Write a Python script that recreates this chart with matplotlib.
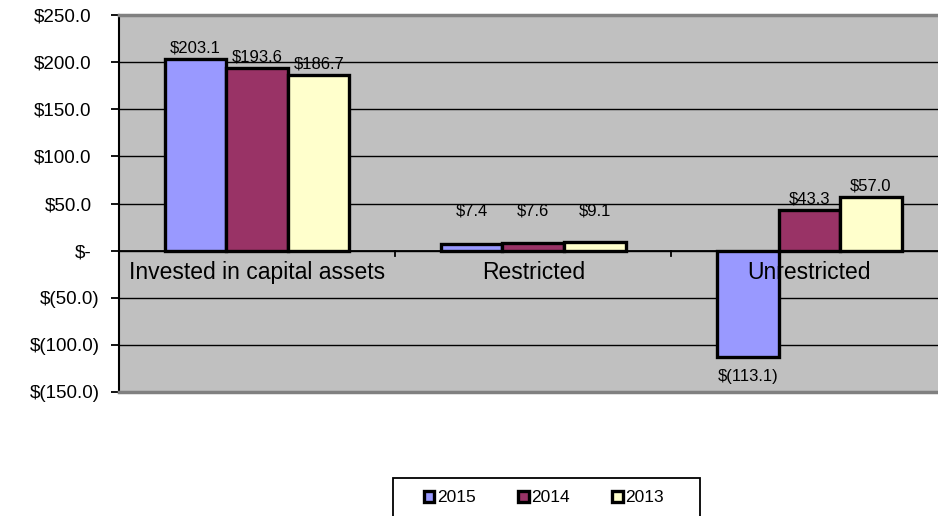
import matplotlib
matplotlib.use("Agg")
import matplotlib.pyplot as plt
from matplotlib.patches import Rectangle
from matplotlib.transforms import ScaledTranslation
import numpy as np

plt.rcParams['font.family'] = ['Liberation Sans', 'DejaVu Sans']

# data
categories = ["Invested in capital assets", "Restricted", "Unrestricted"]
years = ["2015", "2014", "2013"]
v2015 = [203.1, 7.4, -113.1]
v2014 = [193.6, 7.6, 43.3]
v2013 = [186.7, 9.1, 57.0]
colors = ["#9999FF", "#993366", "#FFFFCC"]
yticks = [-150, -100, -50, 0, 50, 100, 150, 200, 250]


def money(v):
    if v == 0:
        return "$-"
    if v < 0:
        return "$(%.1f)" % -v
    return "$%.1f" % v


fig = plt.figure(figsize=(9.38, 5.16), dpi=100)
ax = fig.add_axes([119 / 938, 124 / 516, 819 / 938, 377 / 516])
ax.set_facecolor("#C0C0C0")

x = np.arange(len(categories))
w = 0.223
series = [v2015, v2014, v2013]
for j, (vals, c, lab) in enumerate(zip(series, colors, years)):
    xs = x + (j - 1) * w
    ax.bar(xs, vals, w, color=c, edgecolor="black", linewidth=2.4, label=lab, zorder=3)
    for xi, v in zip(xs, vals):
        if v < 0:
            ax.annotate(money(v), (xi, v), xytext=(0, -14), textcoords="offset points",
                        ha="center", va="center", fontsize=12, zorder=4)
        else:
            # small bars get their labels lifted, as in the original sheet
            y = max(v, 30)
            ax.annotate(money(v), (xi, y), xytext=(0, 8), textcoords="offset points",
                        ha="center", va="center", fontsize=12, zorder=4)

ax.set_ylim(-150, 250)
ax.set_xlim(-0.5, 2.466)
ax.set_yticks(yticks)
ax.set_yticklabels([money(t) for t in yticks], fontsize=13.5)
ax.yaxis.grid(True, color="black", linewidth=1, zorder=1)
ax.axhline(0, color="black", linewidth=1.3, zorder=2)
ax.tick_params(axis="y", length=6, width=1.3, pad=8)
ax.set_xticks([])

# accounting format: positives leave room for the closing bracket
shift = ScaledTranslation(-8 / 100, 0, fig.dpi_scale_trans)
for lbl in ax.get_yticklabels():
    if not lbl.get_text().endswith(")"):
        lbl.set_transform(lbl.get_transform() + shift)

# ticks between categories on the zero line
for b in [0.5, 1.5]:
    ax.plot([b, b], [0, -6], color="black", linewidth=1.3, zorder=2)

for xi, name in zip(x, categories):
    ax.annotate(name, (xi, 0), xytext=(0, -16), textcoords="offset points",
                ha="center", va="center", fontsize=16.5, zorder=5)

for s in ["top", "bottom"]:
    ax.spines[s].set_color("#808080")
    ax.spines[s].set_linewidth(2.5)
ax.spines["right"].set_visible(False)
ax.spines["left"].set_color("black")
ax.spines["left"].set_linewidth(1.5)

# legend box runs off the bottom of the picture
fig.add_artist(Rectangle((393 / 938, -0.05), 307 / 938, 0.05 + 1 - 478 / 516,
                         transform=fig.transFigure, fill=False, edgecolor="black",
                         linewidth=1.3))
leg = fig.legend(loc="center left", bbox_to_anchor=(424 / 938, 1 - 498 / 516), ncol=3,
                 fontsize=12.5, frameon=False,
                 handlelength=0.6, handleheight=0.6, handletextpad=0.15,
                 columnspacing=2.45, borderpad=0, borderaxespad=0)

fig.savefig("out.png", dpi=100)
